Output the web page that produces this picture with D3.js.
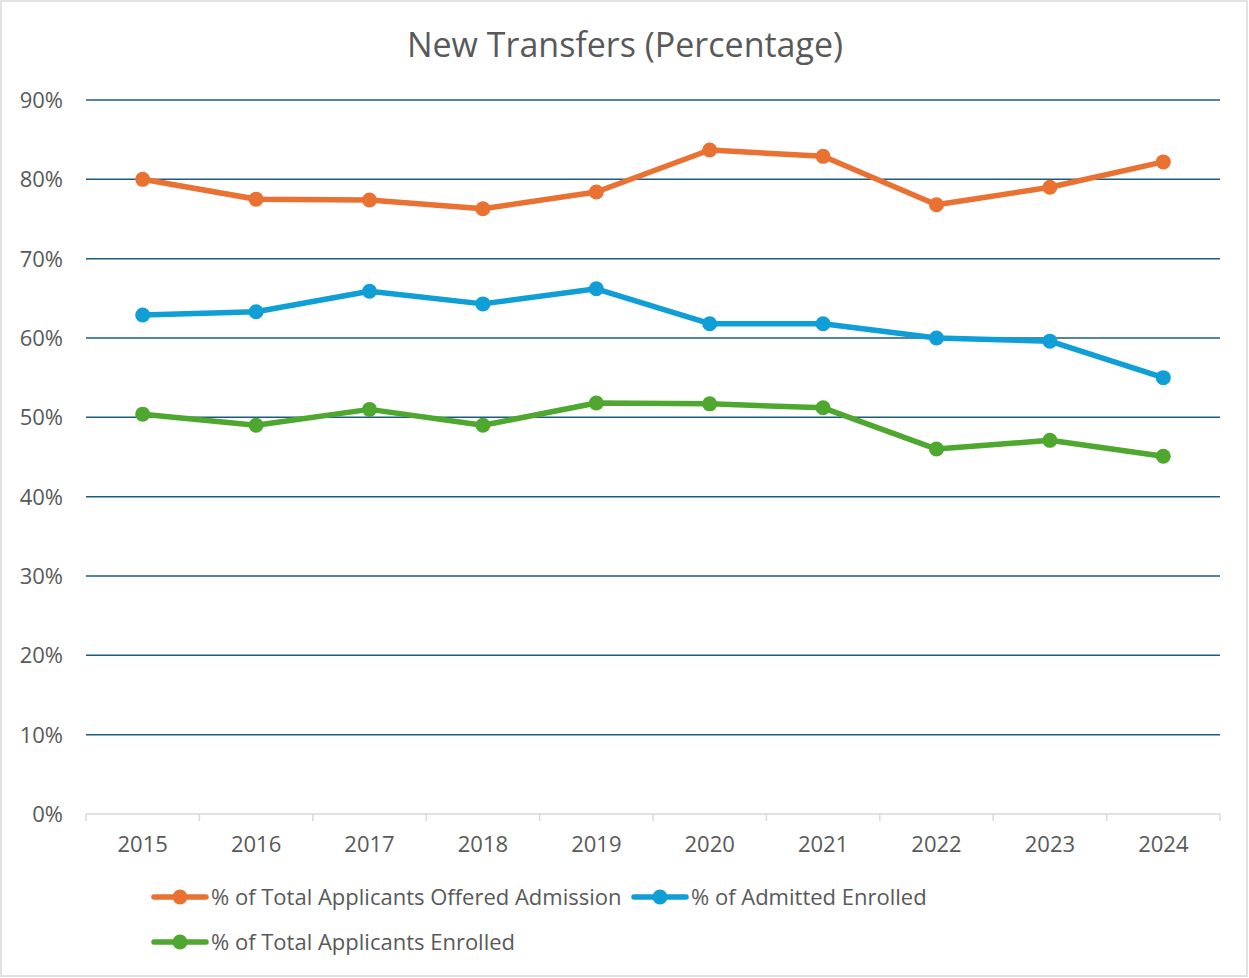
<head>
<script src="https://cdn.jsdelivr.net/npm/d3@7"></script>
<style>
  body { margin: 0; background: #fff; }
  text { font-family: "Open Sans", "Noto Sans", sans-serif; fill: #595959; }
</style>
</head>
<body>
<div id="chart"></div>
<script>
var years = ['2015', '2016', '2017', '2018', '2019', '2020', '2021', '2022', '2023', '2024'];
var offered = [80.0, 77.5, 77.4, 76.3, 78.4, 83.7, 82.9, 76.8, 79.0, 82.2];
var admittedEnrolled = [62.9, 63.3, 65.9, 64.3, 66.2, 61.8, 61.8, 60.0, 59.6, 55.0];
var totalEnrolled = [50.4, 49.0, 51.0, 49.0, 51.8, 51.7, 51.2, 46.0, 47.1, 45.1];
var yTicks = [0, 10, 20, 30, 40, 50, 60, 70, 80, 90];

var series = [
  { name: '% of Total Applicants Offered Admission', color: '#e97132', values: offered },
  { name: '% of Admitted Enrolled', color: '#0f9ed5', values: admittedEnrolled },
  { name: '% of Total Applicants Enrolled', color: '#4ea72e', values: totalEnrolled }
];

var width = 1249, height = 978;
var plotLeft = 86, plotRight = 1220, plotTop = 100, plotBottom = 814;

var svg = d3.select('#chart').append('svg')
  .attr('width', width)
  .attr('height', height);

svg.append('rect')
  .attr('x', 1).attr('y', 1)
  .attr('width', width - 3).attr('height', height - 3)
  .attr('fill', '#fff')
  .attr('stroke', '#d9d9d9')
  .attr('stroke-width', 1.5);

svg.append('text')
  .attr('x', 625).attr('y', 57)
  .attr('text-anchor', 'middle')
  .style('font-size', '34px')
  .text('New Transfers (Percentage)');

var x = d3.scaleBand().domain(years).range([plotLeft, plotRight]);
var y = d3.scaleLinear().domain([0, 90]).range([plotBottom, plotTop]);

// gridlines
svg.append('g')
  .selectAll('line')
  .data(yTicks.filter(function(d) { return d > 0; }))
  .enter().append('line')
  .attr('x1', plotLeft).attr('x2', plotRight)
  .attr('y1', function(d) { return y(d); })
  .attr('y2', function(d) { return y(d); })
  .attr('stroke', '#1d5a80')
  .attr('stroke-width', 1.5);

// y labels
svg.append('g')
  .selectAll('text')
  .data(yTicks)
  .enter().append('text')
  .attr('x', 63)
  .attr('y', function(d) { return y(d) + 8; })
  .attr('text-anchor', 'end')
  .style('font-size', '22px')
  .text(function(d) { return d + '%'; });

// x axis
var xAxis = d3.axisBottom(x).tickSize(0).tickPadding(0);
var gx = svg.append('g').attr('transform', 'translate(0,' + plotBottom + ')').call(xAxis);
gx.select('.domain').remove();
gx.selectAll('text')
  .attr('y', 38)
  .attr('dy', 0)
  .style('font-size', '22px')
  .style('font-family', '"Open Sans", "Noto Sans", sans-serif')
  .attr('fill', '#595959');

svg.append('line')
  .attr('x1', plotLeft).attr('x2', plotRight)
  .attr('y1', plotBottom).attr('y2', plotBottom)
  .attr('stroke', '#d9d9d9').attr('stroke-width', 1.5);

var bounds = years.map(function(d) { return x(d); }).concat([plotRight]);
svg.append('g')
  .selectAll('line')
  .data(bounds)
  .enter().append('line')
  .attr('x1', function(d) { return d; }).attr('x2', function(d) { return d; })
  .attr('y1', plotBottom).attr('y2', plotBottom + 7)
  .attr('stroke', '#d9d9d9').attr('stroke-width', 1.5);

var line = d3.line()
  .x(function(d, i) { return x(years[i]) + x.bandwidth() / 2; })
  .y(function(d) { return y(d); });

series.forEach(function(s) {
  svg.append('path')
    .datum(s.values)
    .attr('d', line)
    .attr('fill', 'none')
    .attr('stroke', s.color)
    .attr('stroke-width', 5.5)
    .attr('stroke-linejoin', 'round')
    .attr('stroke-linecap', 'round');
  svg.append('g')
    .selectAll('circle')
    .data(s.values)
    .enter().append('circle')
    .attr('cx', function(d, i) { return x(years[i]) + x.bandwidth() / 2; })
    .attr('cy', function(d) { return y(d); })
    .attr('r', 7.5)
    .attr('fill', s.color);
});

// legend
var legendPos = [[152, 897], [632, 897], [152, 942]];
series.forEach(function(s, i) {
  var g = svg.append('g').attr('transform', 'translate(' + legendPos[i][0] + ',' + legendPos[i][1] + ')');
  g.append('line')
    .attr('x1', 2).attr('x2', 54)
    .attr('stroke', s.color).attr('stroke-width', 5.5).attr('stroke-linecap', 'round');
  g.append('circle').attr('cx', 28).attr('r', 7.5).attr('fill', s.color);
  g.append('text')
    .attr('x', 59).attr('y', 8)
    .style('font-size', '22px')
    .text(s.name);
});
</script>
</body>
